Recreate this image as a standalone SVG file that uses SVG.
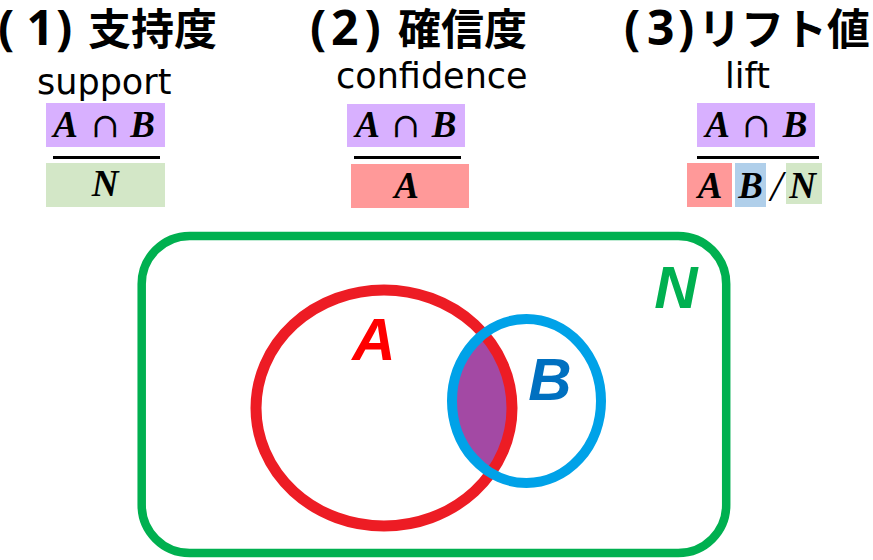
<svg xmlns="http://www.w3.org/2000/svg" width="873" height="560" viewBox="0 0 873 560">
  <defs>
    <style>
      .head { font-family: "Noto Sans CJK JP", "DejaVu Sans", sans-serif; font-weight: bold; font-size: 43px; fill: #000; }
      .num { font-family: "Noto Sans", "DejaVu Sans", sans-serif; font-weight: bold; font-size: 48px; }
      .sub { font-family: "DejaVu Sans", sans-serif; font-size: 35px; fill: #000; }
      .math { font-family: "Liberation Serif", "DejaVu Serif", serif; font-weight: bold; font-style: italic; font-size: 37px; fill: #000; text-anchor: middle; }
      .cap { font-family: "DejaVu Serif", serif; font-size: 34px; fill: #000; text-anchor: middle; }
      .slash { font-family: "Liberation Serif", serif; font-style: italic; font-size: 44px; fill: #000; text-anchor: middle; }
      .bar { stroke: #000; stroke-width: 3; }
      .pAB { fill: #D8B0FF; }
      .pN { fill: #D3E7C7; }
      .pA { fill: #FF9999; }
      .pB { fill: #B0CFEA; }
      .venn { font-family: "Liberation Sans", Arial, sans-serif; font-weight: bold; font-style: italic; font-size: 60px; text-anchor: middle; }
    </style>
    <clipPath id="clipA">
      <ellipse cx="384" cy="408" rx="128" ry="118"/>
    </clipPath>
  </defs>

  <!-- (1) support -->
  <g id="support">
    <text class="head" y="45"><tspan class="num" x="-2 26.5 56">(1)</tspan><tspan x="88">支持度</tspan></text>
    <text class="sub" x="37" y="94">support</text>
    <rect class="pAB" x="46" y="103" width="119" height="44"/>
    <text class="math" x="65.5" y="137">A</text>
    <text class="cap" x="105.5" y="137">∩</text>
    <text class="math" x="142.5" y="137">B</text>
    <line class="bar" x1="53" y1="157.5" x2="160" y2="157.5"/>
    <rect class="pN" x="46" y="163" width="119" height="44"/>
    <text class="math" x="105" y="196">N</text>
  </g>

  <!-- (2) confidence -->
  <g id="confidence">
    <text class="head" y="45"><tspan class="num" x="310 331 364.5">(2)</tspan><tspan x="398">確信度</tspan></text>
    <text class="sub" x="336" y="88">confidence</text>
    <rect class="pAB" x="347" y="104" width="118" height="43"/>
    <text class="math" x="367.5" y="137">A</text>
    <text class="cap" x="406" y="137">∩</text>
    <text class="math" x="444" y="137">B</text>
    <line class="bar" x1="354" y1="157.5" x2="461" y2="157.5"/>
    <rect class="pA" x="351" y="164" width="118" height="44"/>
    <text class="math" x="406.5" y="198">A</text>
  </g>

  <!-- (3) lift -->
  <g id="lift">
    <text class="head" y="45"><tspan class="num" x="624 647 678">(3)</tspan><tspan x="698">リフト値</tspan></text>
    <text class="sub" x="725" y="88">lift</text>
    <rect class="pAB" x="697" y="103" width="118" height="44"/>
    <text class="math" x="717.5" y="137">A</text>
    <text class="cap" x="756.5" y="137">∩</text>
    <text class="math" x="795" y="137">B</text>
    <line class="bar" x1="697" y1="157.5" x2="819" y2="157.5"/>
    <rect class="pA" x="687" y="163" width="45" height="44"/>
    <rect class="pB" x="735" y="163" width="31" height="44"/>
    <rect class="pN" x="786" y="163" width="36" height="41"/>
    <text class="math" x="710" y="198">A</text>
    <text class="math" x="750.5" y="198">B</text>
    <text class="slash" x="776.5" y="201">/</text>
    <text class="math" x="802.5" y="198">N</text>
  </g>

  <!-- Venn diagram -->
  <g id="setN">
    <rect x="141.7" y="236" width="584.5" height="317" rx="48" ry="48" fill="none" stroke="#00B050" stroke-width="8.5"/>
    <text class="venn" x="676" y="308" fill="#00B050">N</text>
  </g>
  <g id="intersection">
    <ellipse cx="526.5" cy="401" rx="74.5" ry="82" fill="#A349A4" clip-path="url(#clipA)"/>
  </g>
  <g id="setA">
    <ellipse cx="384" cy="408" rx="128" ry="118" fill="none" stroke="#ED1C24" stroke-width="11"/>
    <text class="venn" x="374" y="360" fill="#FF0000">A</text>
  </g>
  <g id="setB">
    <ellipse cx="526.5" cy="401" rx="74.5" ry="82" fill="none" stroke="#00A2E8" stroke-width="10"/>
    <text class="venn" x="550" y="400" fill="#0070C0" font-size="58">B</text>
  </g>
  <g id="connectors"/>
</svg>
